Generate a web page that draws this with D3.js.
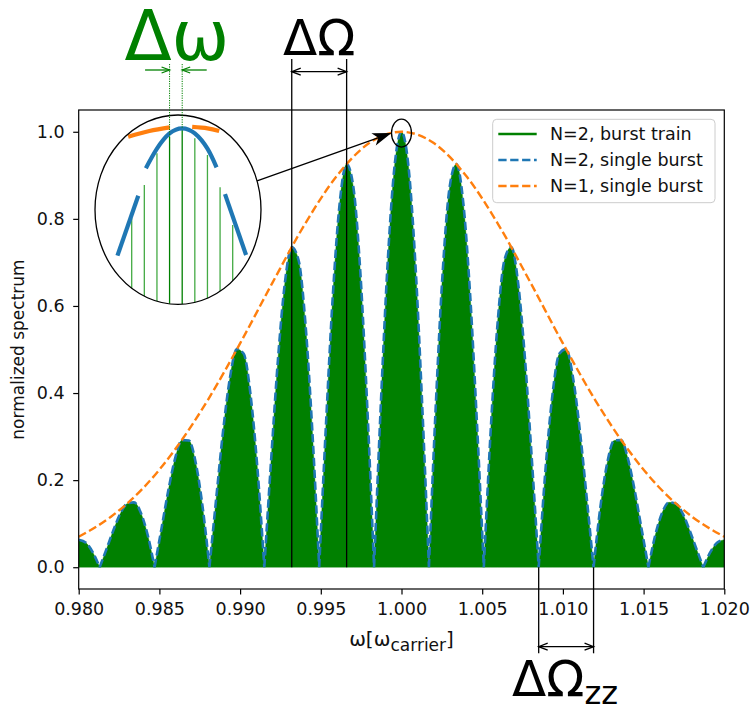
<!DOCTYPE html>
<html><head><meta charset="utf-8">
<script src="https://cdn.jsdelivr.net/npm/d3@7"></script>
<style>body{margin:0;background:#fff} text{font-family:"DejaVu Sans",sans-serif}</style>
</head><body><svg id="c" width="752" height="712"></svg>
<script>
// ---------- data ----------
const xTicks = [0.980,0.985,0.990,0.995,1.000,1.005,1.010,1.015,1.020];
const yTicks = [0.0,0.2,0.4,0.6,0.8,1.0];
const seriesLabels = ["N=2, burst train","N=2, single burst","N=1, single burst"];
const seriesColors = ["#008000","#1f77b4","#ff7f0e"];

// N=2 spectrum (burst train fill + single burst dashed)
const omegaN2 = [
  0.980000,0.980450,0.980875,0.981300,0.981725,0.982150,0.982575,0.983000,0.983425,0.983850,0.984275,0.984700,
  0.985125,0.985550,0.985975,0.986400,0.986825,0.987250,0.987675,0.988100,0.988525,0.988950,0.989375,0.989800,
  0.990225,0.990650,0.991075,0.991500,0.991925,0.992350,0.992775,0.993200,0.993625,0.994050,0.994475,0.994900,
  0.995325,0.995750,0.996175,0.996600,0.997025,0.997450,0.997875,0.998300,0.998725,0.999150,0.999575,1.000000,
  1.000425,1.000850,1.001275,1.001700,1.002125,1.002550,1.002975,1.003400,1.003825,1.004250,1.004675,1.005100,
  1.005525,1.005950,1.006375,1.006800,1.007225,1.007650,1.008075,1.008500,1.008925,1.009350,1.009775,1.010200,
  1.010625,1.011050,1.011475,1.011900,1.012325,1.012750,1.013175,1.013600,1.014025,1.014450,1.014875,1.015300,
  1.015725,1.016150,1.016575,1.017000,1.017425,1.017850,1.018275,1.018700,1.019125,1.019550,1.020000];
const specN2 = [
  0.063,0.056,0.034,0,0.042,0.085,0.123,0.146,0.149,0.125,0.074,0,
  0.088,0.176,0.250,0.292,0.291,0.240,0.139,0,0.160,0.314,0.436,0.501,
  0.490,0.395,0.226,0,0.248,0.479,0.653,0.735,0.705,0.559,0.313,0,
  0.331,0.627,0.838,0.926,0.871,0.677,0.372,0,0.379,0.704,0.923,1.000,
  0.923,0.704,0.379,0,0.372,0.677,0.871,0.926,0.838,0.627,0.331,0,
  0.313,0.559,0.705,0.735,0.653,0.479,0.248,0,0.226,0.395,0.490,0.501,
  0.436,0.314,0.160,0,0.139,0.240,0.291,0.292,0.250,0.176,0.088,0,
  0.074,0.125,0.149,0.146,0.123,0.085,0.042,0,0.034,0.056,0.063];

// N=1 spectrum (envelope)
const omegaN1 = [0.980,0.982,0.984,0.986,0.988,0.990,0.992,0.994,0.996,0.998,1.000,
  1.002,1.004,1.006,1.008,1.010,1.012,1.014,1.016,1.018,1.020];
const specN1 = [0.070,0.116,0.182,0.272,0.384,0.514,0.653,0.787,0.899,0.974,1.000,
  0.974,0.899,0.787,0.653,0.514,0.384,0.272,0.182,0.116,0.070];

// annotations
const dOmegaLines = [0.9932, 0.9966];
const dOmegaZZLines = [1.0085, 1.0119];
const peakMark = [1.000, 0.997];

// inset (schematic zoom around the peak), in comb-index units / normalized height
const combIndex = [-4,-3,-2,-1,0,1,2,3,4];
const combHeights = [0.505,0.688,0.862,0.954,1.0,0.945,0.853,0.675,0.468];
const insetArcU = [-2.88,-2,-1,0,1,2,2.72];
const insetArcV = [0.78,0.888,0.972,1.0,0.972,0.888,0.785];
const insetBlueLeftU = [-3.48,-5.13], insetBlueLeftV = [0.629,0.299];
const insetBlueRightU = [3.39,5.06], insetBlueRightV = [0.638,0.303];
const insetOrangeLeftU = [-4.28,-2.6,-0.98], insetOrangeLeftV = [0.954,0.985,1.005];
const insetOrangeRightU = [0.79,2.0,2.93], insetOrangeRightV = [1.008,1.0,0.985];

// ---------- drawing ----------
const svg = d3.select("#c");
const x = d3.scaleLinear().domain([0.98,1.02]).range([78.7,724.3]);
const y = d3.scaleLinear().domain([-0.05,1.05]).range([589,110]);
const FS = 17.5;

svg.append("defs").append("clipPath").attr("id","plotclip")
  .append("rect").attr("x",x(0.98)).attr("y",y(1.05)).attr("width",x(1.02)-x(0.98)).attr("height",y(-0.05)-y(1.05));

const plot = svg.append("g").attr("clip-path","url(#plotclip)");

// split N=2 series into lobes at its zeros (sharp notches)
const lobes = [];
let cur = [];
specN2.forEach((v,i)=>{
  cur.push(i);
  if (v === 0 && cur.length > 1) { lobes.push(cur); cur = [i]; }
});
if (cur.length > 1) lobes.push(cur);

const areaN2 = d3.area().x(i=>x(omegaN2[i])).y0(y(0)).y1(i=>y(specN2[i])).curve(d3.curveMonotoneX);
const lineN2 = d3.line().x(i=>x(omegaN2[i])).y(i=>y(specN2[i])).curve(d3.curveMonotoneX);
lobes.forEach(l=>plot.append("path").attr("d",areaN2(l)).attr("fill",seriesColors[0]).attr("stroke",seriesColors[0]).attr("stroke-width",0.4));
plot.append("path")
  .attr("d", lobes.map(l=>lineN2(l)).join(""))
  .attr("fill","none").attr("stroke",seriesColors[1]).attr("stroke-width",2.6).attr("stroke-dasharray","8.3,3.6");
const idxN1 = d3.range(omegaN1.length);
plot.append("path")
  .attr("d", d3.line().x(i=>x(omegaN1[i])).y(i=>y(specN1[i])).curve(d3.curveMonotoneX)(idxN1))
  .attr("fill","none").attr("stroke",seriesColors[2]).attr("stroke-width",2.4).attr("stroke-dasharray","8.3,3.6");

// axes
const xAxis = svg.append("g").attr("transform",`translate(0,${y(-0.05)})`)
  .call(d3.axisBottom(x).tickValues(xTicks).tickFormat(d3.format(".3f")).tickSizeOuter(0).tickSize(5.5).tickPadding(8));
const yAxis = svg.append("g").attr("transform",`translate(${x(0.98)},0)`)
  .call(d3.axisLeft(y).tickValues(yTicks).tickFormat(d3.format(".1f")).tickSizeOuter(0).tickSize(5.5).tickPadding(8.5));
[xAxis,yAxis].forEach(a=>{
  a.select(".domain").remove();
  a.selectAll(".tick line").attr("stroke","#000").attr("stroke-width",1.2);
  a.selectAll(".tick text").attr("font-size",FS).attr("font-family","DejaVu Sans").attr("fill","#111");
});
svg.append("rect").attr("x",x(0.98)).attr("y",y(1.05)).attr("width",x(1.02)-x(0.98)).attr("height",y(-0.05)-y(1.05))
  .attr("fill","none").attr("stroke","#000").attr("stroke-width",1.2);

// axis labels
const xl = svg.append("text").attr("x",(x(0.98)+x(1.02))/2).attr("y",646).attr("text-anchor","middle").attr("font-size",20).attr("fill","#111");
xl.append("tspan").text("ω[ω");
xl.append("tspan").attr("font-size",17).attr("dy",5).text("carrier");
xl.append("tspan").attr("dy",-5).text("]");
svg.append("text").attr("transform",`translate(24,${(y(-0.05)+y(1.05))/2}) rotate(-90)`)
  .attr("text-anchor","middle").attr("font-size",FS-0.5).attr("fill","#111").text("normalized spectrum");

// helpers
function headOpen(g, px, py, dx, dy, color, len=9, hw=3.5){
  const L=Math.hypot(dx,dy), ux=dx/L, uy=dy/L, nx=-uy, ny=ux;
  g.append("path").attr("d",`M${px-ux*len+nx*hw},${py-uy*len+ny*hw}L${px},${py}L${px-ux*len-nx*hw},${py-uy*len-ny*hw}`)
    .attr("fill","none").attr("stroke",color).attr("stroke-width",1.3);
}
const ann = svg.append("g");

// ΔΩ annotation
dOmegaLines.forEach(v=>{
  ann.append("line").attr("x1",x(v)).attr("x2",x(v)).attr("y1",59).attr("y2",y(0)).attr("stroke","#000").attr("stroke-width",1.3);
});
ann.append("line").attr("x1",x(dOmegaLines[0])).attr("x2",x(dOmegaLines[1])).attr("y1",71.7).attr("y2",71.7).attr("stroke","#000").attr("stroke-width",1.3);
headOpen(ann,x(dOmegaLines[1]),71.7,1,0,"#000");
headOpen(ann,x(dOmegaLines[0]),71.7,-1,0,"#000");
ann.append("text").attr("x",(x(dOmegaLines[0])+x(dOmegaLines[1]))/2).attr("y",55).attr("text-anchor","middle")
  .attr("font-size",50).attr("fill","#000").text("ΔΩ");

// ΔΩzz annotation
dOmegaZZLines.forEach(v=>{
  ann.append("line").attr("x1",x(v)).attr("x2",x(v)).attr("y1",y(0)).attr("y2",653.3).attr("stroke","#000").attr("stroke-width",1.3);
});
ann.append("line").attr("x1",x(dOmegaZZLines[0])).attr("x2",x(dOmegaZZLines[1])).attr("y1",646.7).attr("y2",646.7).attr("stroke","#000").attr("stroke-width",1.3);
headOpen(ann,x(dOmegaZZLines[1]),646.7,1,0,"#000");
headOpen(ann,x(dOmegaZZLines[0]),646.7,-1,0,"#000");
const zz = ann.append("text").attr("x",512).attr("y",696).attr("font-size",50).attr("fill","#000");
zz.append("tspan").text("ΔΩ");
zz.append("tspan").attr("font-size",32).attr("dy",8).text("zz");

// small ellipse around the peak
const pcx = x(peakMark[0]), pcy = y(peakMark[1]);
ann.append("ellipse").attr("cx",pcx).attr("cy",pcy).attr("rx",10).attr("ry",14)
  .attr("fill","none").attr("stroke","#000").attr("stroke-width",1.3);

// inset
const icx=178, icy=209.7, irx=83, iry=94.7;
const xi = d3.scaleLinear().domain([-4,4]).range([131.7,232.7]);
const yi = d3.scaleLinear().domain([0,1]).range([310,128.3]);
svg.select("defs").append("clipPath").attr("id","insetclip")
  .append("ellipse").attr("cx",icx).attr("cy",icy).attr("rx",irx).attr("ry",iry);
const inset = svg.append("g");
const insetC = inset.append("g").attr("clip-path","url(#insetclip)");
combIndex.forEach((u,i)=>{
  const dark = (u===0||u===-1);
  insetC.append("line").attr("x1",xi(u)).attr("x2",xi(u)).attr("y1",yi(combHeights[i])).attr("y2",yi(-0.1))
    .attr("stroke", dark ? "#008000" : "#44aa44").attr("stroke-width",1.3);
});
const lineI = d3.line().curve(d3.curveNatural);
function ipath(U,V,color){
  inset.append("path").attr("d",lineI(U.map((u,i)=>[xi(u),yi(V[i])])))
    .attr("fill","none").attr("stroke",color).attr("stroke-width",4.2);
}
ipath(insetOrangeLeftU,insetOrangeLeftV,seriesColors[2]);
ipath(insetOrangeRightU,insetOrangeRightV,seriesColors[2]);
ipath(insetArcU,insetArcV,seriesColors[1]);
ipath(insetBlueLeftU,insetBlueLeftV,seriesColors[1]);
ipath(insetBlueRightU,insetBlueRightV,seriesColors[1]);
inset.append("ellipse").attr("cx",icx).attr("cy",icy).attr("rx",irx).attr("ry",iry)
  .attr("fill","none").attr("stroke","#000").attr("stroke-width",1.3);

// Δω annotation (dotted lines, arrows, label)
[-1,0].forEach(u=>{
  inset.append("line").attr("x1",xi(u)).attr("x2",xi(u)).attr("y1",64).attr("y2",yi(combHeights[combIndex.indexOf(u)]))
    .attr("stroke","#008000").attr("stroke-width",1).attr("stroke-dasharray","1.2,1.2");
});
inset.append("line").attr("x1",xi(-1)-24.5).attr("x2",xi(-1)).attr("y1",70).attr("y2",70).attr("stroke","#008000").attr("stroke-width",1.3);
headOpen(inset,xi(-1),70,1,0,"#008000",8,3);
inset.append("line").attr("x1",xi(0)+24.5).attr("x2",xi(0)).attr("y1",70).attr("y2",70).attr("stroke","#008000").attr("stroke-width",1.3);
headOpen(inset,xi(0),70,-1,0,"#008000",8,3);
inset.append("text").attr("x",(xi(-1)+xi(0))/2+1).attr("y",60).attr("text-anchor","middle")
  .attr("font-size",69).attr("fill","#008000").text("Δω");

// big arrow from inset to peak
{
  const th = Math.atan2(-0.303, 0.952);
  const sx = icx + irx*Math.cos(th), sy = icy + iry*Math.sin(th);
  const ex = pcx - 10, ey = pcy;
  const dx=ex-sx, dy=ey-sy, L=Math.hypot(dx,dy), ux=dx/L, uy=dy/L, nx=-uy, ny=ux;
  const hl=19, hw=6.5, notch=5;
  ann.append("line").attr("x1",sx).attr("y1",sy).attr("x2",ex-ux*hl*0.6).attr("y2",ey-uy*hl*0.6)
    .attr("stroke","#000").attr("stroke-width",1.3);
  ann.append("path").attr("d",`M${ex},${ey}L${ex-ux*hl+nx*hw},${ey-uy*hl+ny*hw}L${ex-ux*(hl-notch)},${ey-uy*(hl-notch)}L${ex-ux*hl-nx*hw},${ey-uy*hl-ny*hw}Z`)
    .attr("fill","#000");
}

// legend
const lg = svg.append("g");
lg.append("rect").attr("x",492.7).attr("y",119.3).attr("width",222.3).attr("height",83.4).attr("rx",4)
  .attr("fill","#fff").attr("fill-opacity",0.8).attr("stroke","#cccccc").attr("stroke-width",1);
seriesLabels.forEach((s,i)=>{
  const cy = 134 + i*26;
  lg.append("line").attr("x1",498.3).attr("x2",536.7).attr("y1",cy).attr("y2",cy)
    .attr("stroke",seriesColors[i]).attr("stroke-width",2.4).attr("stroke-dasharray", i===0?null:"8.3,3.6");
  lg.append("text").attr("x",550).attr("y",cy+6.3).attr("font-size",FS).attr("fill","#111").text(s);
});
</script></body></html>
